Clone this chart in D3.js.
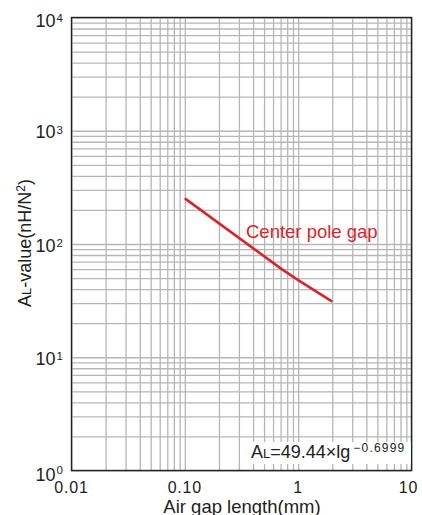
<!DOCTYPE html>
<html><head><meta charset="utf-8">
<script src="https://cdn.jsdelivr.net/npm/d3@7"></script>
<style>
html,body{margin:0;padding:0;background:#fff;}
svg{display:block;font-family:"Liberation Sans",Arial,sans-serif;}
</style></head>
<body>
<svg id="chart" width="422" height="515"></svg>
<script>
// Data
const gapMM = [0.1, 0.7, 1, 2];
const alValue = [253, 61, 48, 31];
const xTickValues = [0.01, 0.1, 1, 10];
const xTickLabels = ["0.01", "0.10", "1", "10"];
const yTickExps = [0, 1, 2, 3, 4];
const seriesName = "Center pole gap";
const formulaCoef = "49.44";
const formulaExp = "\u22120.6999";

const svg = d3.select("#chart");
const L = 71.5, R = 411.5, T = 17.5, B = 470.5;
const x = d3.scaleLog().domain([0.01, 10]).range([L, R]);
const y = d3.scaleLog().domain([1, 1e4]).range([B, T]);

function minorVals(lo, hi) {
  const v = [];
  for (let d = lo; d < hi; d++) for (let k = 1; k <= 9; k++) v.push(k * Math.pow(10, d));
  v.push(Math.pow(10, hi));
  return v;
}
const gridColor = "#b6b6b6";

// vertical grid
const gx = svg.append("g").attr("transform", `translate(0,${B})`)
  .call(d3.axisBottom(x).tickValues(minorVals(-2, 1)).tickSize(-(B - T)).tickFormat(""));
gx.select(".domain").remove();
gx.selectAll("line").attr("stroke", gridColor).attr("stroke-width", 1.3);

// horizontal grid
const gy = svg.append("g").attr("transform", `translate(${L},0)`)
  .call(d3.axisLeft(y).tickValues(minorVals(0, 4)).tickSize(-(R - L)).tickFormat(""));
gy.select(".domain").remove();
gy.selectAll("line").attr("stroke", gridColor).attr("stroke-width", 1.3);

// frame
svg.append("rect").attr("x", L).attr("y", T).attr("width", R - L).attr("height", B - T)
  .attr("fill", "none").attr("stroke", "#222").attr("stroke-width", 1.4);

// series line
const line = d3.line().x((d, i) => x(gapMM[i])).y(d => y(d));
svg.append("path").datum(alValue).attr("d", line)
  .attr("fill", "none").attr("stroke", "#d8242b").attr("stroke-width", 2.6);

// series label
svg.append("text").attr("x", 246).attr("y", 237.5).attr("fill", "#d8242b")
  .attr("font-size", 18.5).text(seriesName);

// formula box
svg.append("rect").attr("x", 240).attr("y", 442).attr("width", R - 240 - 0.7).attr("height", 22)
  .attr("fill", "#fff");
const ft = svg.append("text").attr("x", 251).attr("y", 457.5).attr("font-size", 18).attr("fill", "#222");
ft.append("tspan").text("A");
ft.append("tspan").attr("font-size", 13).text("L");
ft.append("tspan").text("=" + formulaCoef + "\u00d7lg");
ft.append("tspan").attr("font-size", 12).attr("letter-spacing", 1.2).attr("dy", -6).attr("dx", 3).text(formulaExp);

// y tick labels
yTickExps.forEach(e => {
  const off = e === 0 ? 10 : (e === 4 ? 9 : 7.5);
  const t = svg.append("text").attr("x", 63).attr("y", y(Math.pow(10, e)) + off)
    .attr("text-anchor", "end").attr("font-size", 18).attr("fill", "#222");
  t.append("tspan").text("10");
  t.append("tspan").attr("font-size", 11.5).attr("dy", e === 0 ? -6.5 : -4.5).attr("dx", 1).text(String(e));
});

// x tick labels
xTickValues.forEach((v, i) => {
  svg.append("text").attr("x", x(v) - (i === xTickValues.length - 1 ? 3 : 0)).attr("y", 492.5)
    .attr("text-anchor", "middle").attr("font-size", 16).attr("letter-spacing", 0.8)
    .attr("fill", "#222").text(xTickLabels[i]);
});

// axis titles
svg.append("text").attr("x", 242).attr("y", 512.5).attr("text-anchor", "middle")
  .attr("font-size", 18.5).attr("fill", "#222").text("Air gap length(mm)");

const yt = svg.append("text").attr("transform", "translate(31,243) rotate(-90)")
  .attr("text-anchor", "middle").attr("font-size", 18).attr("fill", "#222");
yt.append("tspan").text("A");
yt.append("tspan").attr("font-size", 13).text("L");
yt.append("tspan").text("-value(nH/N");
yt.append("tspan").attr("font-size", 12).attr("dy", -6).text("2");
yt.append("tspan").attr("dy", 6).text(")");
</script>
</body></html>
